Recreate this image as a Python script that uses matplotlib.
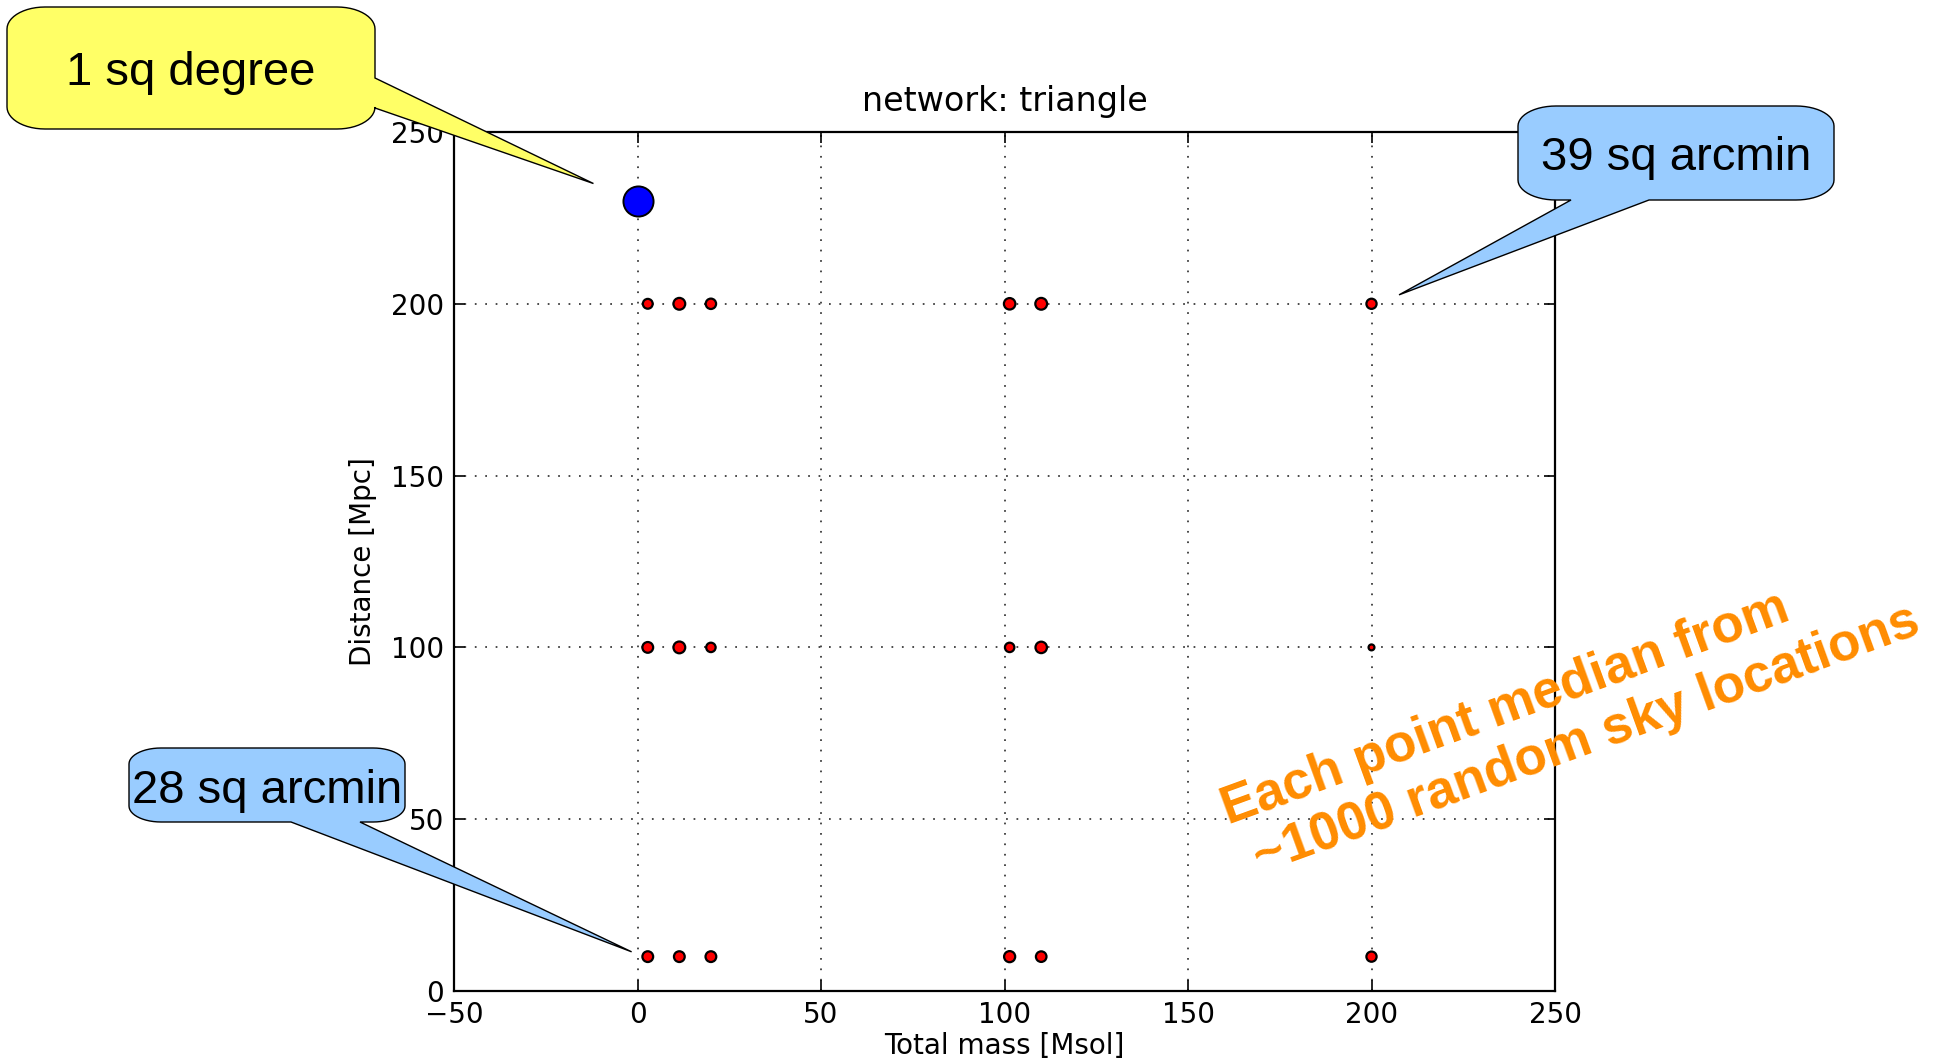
import numpy as np
import matplotlib
matplotlib.use("Agg")
import matplotlib.pyplot as plt
from matplotlib.path import Path
from matplotlib.patches import PathPatch
from matplotlib.transforms import IdentityTransform

# ---- data -------------------------------------------------------------
total_mass = [2.8, 11.4, 20.0, 101.4, 110.0, 200.0]     # Msol
distances = [10, 100, 200]                              # Mpc
# median localisation area per run, shown as marker area (pt^2)
area_d10 = [60, 60, 60, 64, 58, 54]
area_d100 = [60, 72, 46, 46, 68, 18]
area_d200 = [50, 72, 56, 68, 72, 54]
# single wide-field run
wide_mass = [0.0]
wide_dist = [230.0]
wide_area = [470]

xticks = [-50, 0, 50, 100, 150, 200, 250]
yticks = [0, 50, 100, 150, 200, 250]

W, H, DPI = 1935, 1060, 100
fig = plt.figure(figsize=(W / DPI, H / DPI), dpi=DPI)
ax = fig.add_axes([454 / W, 1 - 991 / H, (1555 - 454) / W, (991 - 132) / H])

areas = {10: area_d10, 100: area_d100, 200: area_d200}
for d in distances:
    ax.scatter(total_mass, [d] * len(total_mass), s=areas[d], c="red",
               edgecolors="black", linewidths=1.6, zorder=3)
ax.scatter(wide_mass, wide_dist, s=wide_area, c="blue",
           edgecolors="black", linewidths=1.4, zorder=3)

ax.set_xlim(-50, 250)
ax.set_ylim(0, 250)
ax.set_xticks(xticks)
ax.set_yticks(yticks)
ax.set_axisbelow(True)
ax.grid(True, color="0.2", linestyle=(0, (1, 5)), linewidth=1.25)
ax.tick_params(direction="in", length=8, width=1.2, top=True, right=True,
               labelsize=20, pad=7)
for sp in ax.spines.values():
    sp.set_linewidth(1.6)
ax.set_title("network: triangle", fontsize=24, pad=15)
ax.set_xlabel("Total mass [Msol]", fontsize=20, labelpad=2)
ax.set_ylabel("Distance [Mpc]", fontsize=20, labelpad=10)


def callout(box, rx, ry, side, base, tip_data, fc):
    """Rounded speech bubble in pixel coords (y downward) pointing at a data point."""
    x0, y0, x1, y1 = box
    tx, ty = ax.transData.transform(tip_data)
    tip = (tx, H - ty)

    def arc(cx, cy, t0, t1, n=14):
        t = np.radians(np.linspace(t0, t1, n))
        return list(zip(cx + rx * np.cos(t), cy + ry * np.sin(t)))

    pts = [(x0 + rx, y0)]
    if side == "top":
        a, b = sorted(base)
        pts += [(a, y0), tip, (b, y0)]
    pts += arc(x1 - rx, y0 + ry, -90, 0)
    if side == "right":
        a, b = sorted(base)
        pts += [(x1, a), tip, (x1, b)]
    pts += arc(x1 - rx, y1 - ry, 0, 90)
    if side == "bottom":
        a, b = sorted(base, reverse=True)
        pts += [(a, y1), tip, (b, y1)]
    pts += arc(x0 + rx, y1 - ry, 90, 180)
    pts += arc(x0 + rx, y0 + ry, 180, 270)
    pts.append(pts[0])
    verts = [(x, H - y) for x, y in pts]
    codes = [Path.MOVETO] + [Path.LINETO] * (len(verts) - 2) + [Path.CLOSEPOLY]
    patch = PathPatch(Path(verts, codes), facecolor=fc, edgecolor="black",
                      linewidth=1.0, transform=IdentityTransform(), zorder=5)
    fig.add_artist(patch)


def bubble_text(x, y, s):
    fig.text(x / W, 1 - y / H, s, ha="center", va="baseline", fontsize=34,
             family="Liberation Sans", color="black", zorder=6)


callout((7, 7, 375, 129), 38, 22, "right", (78, 108), (-12.0, 235.0), "#ffff66")
bubble_text(191, 85, "1 sq degree")

callout((1518, 106, 1834, 200), 38, 20, "bottom", (1571, 1649), (207.5, 202.6), "#99ccff")
bubble_text(1676, 170, "39 sq arcmin")

callout((129, 748, 405, 822), 32, 16, "bottom", (291, 360), (-1.6, 11.4), "#99ccff")
bubble_text(267, 803, "28 sq arcmin")

note_kw = dict(ha="left", va="baseline", rotation=20, rotation_mode="anchor",
               fontsize=38, fontweight="bold", family="Liberation Sans",
               color="#ff8c00", zorder=6)
fig.text(1228 / W, 1 - 825 / H, "Each point median from", **note_kw)
fig.text(1260 / W, 1 - 874 / H, "~1000 random sky locations", **note_kw)

fig.savefig("out.png", dpi=DPI)
